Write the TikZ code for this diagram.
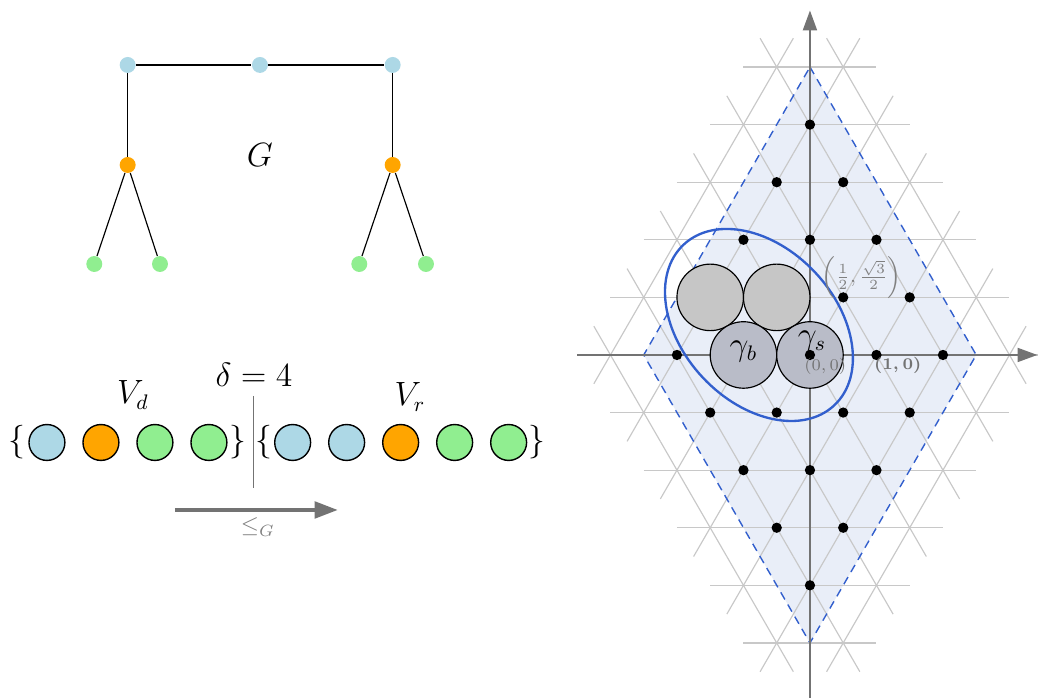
\documentclass[tikz,border=0pt]{standalone}
\usetikzlibrary{arrows.meta}
\definecolor{lblue}{HTML}{ADD8E6}
\definecolor{orng}{HTML}{FFA500}
\definecolor{lgreen}{HTML}{90EE90}
\definecolor{latgray}{RGB}{200,200,200}
\definecolor{axgray}{RGB}{115,115,115}
\definecolor{dfill}{RGB}{233,238,248}
\definecolor{dblue}{RGB}{50,95,205}
\definecolor{cgray}{RGB}{198,198,198}
\definecolor{ggray}{RGB}{185,188,200}
\begin{document}
\begin{tikzpicture}[
  gnode/.style={circle, inner sep=0pt, minimum size=0.24cm},
  seqnode/.style={circle, draw=black, line width=0.6pt, inner sep=0pt, minimum size=0.54cm},
  lab/.style={font=\fontsize{13.5}{16}\selectfont},
  edge/.style={black, line width=0.5pt},
  latline/.style={latgray, line width=0.5pt},
  axisline/.style={axgray, line width=0.8pt, -{Triangle[length=8.5pt,width=6pt]}},
  latdot/.style={circle, fill=black, inner sep=0pt, minimum size=0.155cm},
  disk/.style={circle, draw=black, line width=0.5pt, inner sep=0pt, minimum size=1cm},
]
\useasboundingbox (-12.180,-5.158) rectangle (3.429,5.338);

% ---------------- graph G ----------------
\node[gnode, fill=lblue] (b1) at (-10.260,4.361) {};
\node[gnode, fill=lblue] (b2) at (-8.271,4.361) {};
\node[gnode, fill=lblue] (b3) at (-6.275,4.361) {};
\node[gnode, fill=orng] (o1) at (-10.260,2.857) {};
\node[gnode, fill=orng] (o2) at (-6.275,2.857) {};
\node[gnode, fill=lgreen] (g1) at (-10.762,1.368) {};
\node[gnode, fill=lgreen] (g2) at (-9.774,1.368) {};
\node[gnode, fill=lgreen] (g3) at (-6.777,1.368) {};
\node[gnode, fill=lgreen] (g4) at (-5.774,1.368) {};
\draw[edge] (b1) -- (b2) -- (b3);
\draw[edge] (b1) -- (o1);
\draw[edge] (b3) -- (o2);
\draw[edge] (o1) -- (g1);
\draw[edge] (o1) -- (g2);
\draw[edge] (o2) -- (g3);
\draw[edge] (o2) -- (g4);
\node[lab] (Glab) at (-8.271,3.008) {$G$};

% ---------------- sequence ----------------
\node[lab] (lb1) at (-11.93,-1.316) {$\{$};
\node[seqnode, fill=lblue] (s1) at (-11.474,-1.316) {};
\node[seqnode, fill=orng] (s2) at (-10.662,-1.316) {};
\node[seqnode, fill=lgreen] (s3) at (-9.850,-1.316) {};
\node[seqnode, fill=lgreen] (s4) at (-9.038,-1.316) {};
\node[lab] (rb1) at (-8.602,-1.316) {$\}$};
\node[lab] (lb2) at (-8.211,-1.316) {$\{$};
\node[seqnode, fill=lblue] (r1) at (-7.779,-1.316) {};
\node[seqnode, fill=lblue] (r2) at (-6.967,-1.316) {};
\node[seqnode, fill=orng] (r3) at (-6.155,-1.316) {};
\node[seqnode, fill=lgreen] (r4) at (-5.343,-1.316) {};
\node[seqnode, fill=lgreen] (r5) at (-4.531,-1.316) {};
\node[lab] (rb2) at (-4.110,-1.316) {$\}$};
\coordinate (divtop) at (-8.371,-0.617);
\coordinate (divbot) at (-8.371,-2.0);
\draw[axgray, line width=0.5pt] (divtop) -- (divbot);
\node[lab] (Vd) at (-10.180,-0.602) {$V_d$};
\node[lab] (Vr) at (-6.015,-0.632) {$V_r$};
\node[lab] (delta) at (-8.361,-0.301) {$\delta = 4$};
\coordinate (arrA) at (-9.549,-2.331);
\coordinate (arrB) at (-7.098,-2.331);
\draw[axgray, line width=1.8pt, -{Triangle[length=10pt,width=7pt]}] (arrA) -- (arrB);
\node[text=gray, font=\normalsize] (leq) at (-8.301,-2.586) {$\leq_G$};

% ---------------- lattice ----------------
\fill[dfill] (0,4.3301) -- (2.5,0) -- (0,-4.3301) -- (-2.5,0) -- cycle;
\foreach \k in {-5,...,5} {
  \pgfmathtruncatemacro{\n}{6-abs(\k)}
  \foreach \m in {0,...,\n} {
    \pgfmathsetmacro{\px}{-\n/2+\m}
    \pgfmathsetmacro{\py}{\k*0.8660254}
    \draw[latline] (\px-0.5,\py) -- ++(1,0);
    \draw[latline] (\px-0.25,\py-0.4330127) -- ++(0.5,0.8660254);
    \draw[latline] (\px+0.25,\py-0.4330127) -- ++(-0.5,0.8660254);
  }
}
\draw[dblue, line width=0.6pt, dash pattern=on 3.5pt off 2.5pt] (0,4.3301) -- (2.5,0) -- (0,-4.3301) -- (-2.5,0) -- cycle;
\coordinate (xa) at (-3.5,0);
\coordinate (xb) at (3.42,0);
\coordinate (ya) at (0,-5.3);
\coordinate (yb) at (0,5.18);
\draw[axisline] (xa) -- (xb);
\draw[axisline] (ya) -- (yb);
\foreach \k in {-5,...,5} {
  \pgfmathtruncatemacro{\n}{6-abs(\k)}
  \foreach \m in {0,...,\n} {
    \pgfmathsetmacro{\px}{-\n/2+\m}
    \pgfmathsetmacro{\py}{\k*0.8660254}
    \pgfmathtruncatemacro{\inside}{(abs(\px)/2.5+abs(\k)/5) < 0.99 ? 1 : 0}
    \ifnum\inside=1
      \node[latdot] (d\k x\m) at (\px,\py) {};
    \fi
  }
}
\node[disk, fill=cgray] (c1) at (-1.5,0.8660) {};
\node[disk, fill=cgray] (c2) at (-0.5,0.8660) {};
\node[disk, fill=ggray] (gb) at (-1,0) {};
\node[disk, fill=ggray] (gs) at (0,0) {};
\node[latdot] (origin) at (0,0) {};
\draw[dblue, line width=1pt, rotate around={-46.8:(-0.767,0.451)}] (-0.767,0.451) ellipse (1.656 and 1.157);
\node[lab] (gblab) at (-1.0,0.05) {$\gamma_b$};
\node[lab] (gslab) at (0.03,0.2) {$\gamma_s$};
\node[text=axgray, font=\scriptsize] (l00) at (0.23,-0.17) {$(0,0)$};
\node[text=axgray, font=\scriptsize\boldmath] (l10) at (1.32,-0.16) {$(1,0)$};
\node[text=gray, font=\small] (lhalf) at (0.78,1.17) {$\left(\frac{1}{2},\frac{\sqrt{3}}{2}\right)$};
\end{tikzpicture}
\end{document}
